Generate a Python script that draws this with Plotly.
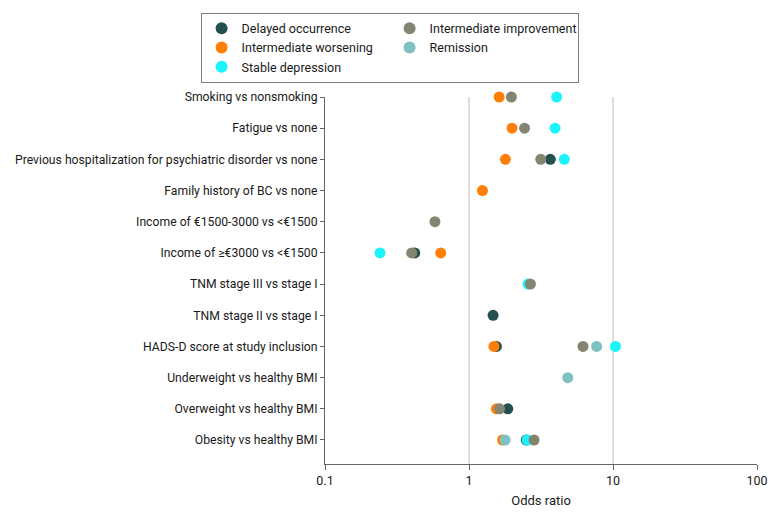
import plotly.graph_objects as go

categories = [
    "Smoking vs nonsmoking",
    "Fatigue vs none",
    "Previous hospitalization for psychiatric disorder vs none",
    "Family history of BC vs none",
    "Income of €1500-3000 vs <€1500",
    "Income of ≥€3000 vs <€1500",
    "TNM stage III vs stage I",
    "TNM stage II vs stage I",
    "HADS-D score at study inclusion",
    "Underweight vs healthy BMI",
    "Overweight vs healthy BMI",
    "Obesity vs healthy BMI",
]

# odds ratios per trajectory (None = not shown)
delayed_occurrence = [None, None, 3.67, None, None, 0.42, None, 1.47, 1.55, None, 1.86, 2.50]
intermediate_improvement = [1.97, 2.43, 3.15, None, 0.58, 0.40, 2.67, None, 6.19, None, 1.63, 2.83]
intermediate_worsening = [1.62, 1.99, 1.79, 1.24, None, 0.636, None, None, 1.49, None, 1.55, 1.71]
remission = [None, None, None, None, None, None, None, None, 7.7, 4.85, None, 1.78]
stable_depression = [4.06, 3.96, 4.59, None, None, 0.241, 2.57, None, 10.4, None, None, 2.53]

x_tick_vals = [0.1, 1, 10, 100]
x_tick_text = ["0.1", "1", "10", "100"]

series = [
    # name, values, color, legend rank (list order = draw order)
    ("Delayed occurrence", delayed_occurrence, "#24514f", 1),
    ("Stable depression", stable_depression, "#1cf3fb", 5),
    ("Intermediate worsening", intermediate_worsening, "#ff7f0a", 3),
    ("Intermediate improvement", intermediate_improvement, "#848570", 2),
    ("Remission", remission, "#7fc1c1", 4),
]

fig = go.Figure()
for name, vals, color, rank in series:
    xs = [v for v in vals if v is not None]
    ys = [c for c, v in zip(categories, vals) if v is not None]
    fig.add_trace(go.Scatter(
        x=xs, y=ys, mode="markers", name=name, legendrank=rank,
        marker=dict(size=11, color=color, line=dict(width=0)),
        cliponaxis=False,
    ))

font_family = "Roboto, 'Open Sans', sans-serif"
fig.update_layout(
    width=780, height=519,
    margin=dict(l=325, r=23, t=97, b=55),
    paper_bgcolor="white", plot_bgcolor="white",
    font=dict(family=font_family, size=12.2, color="#1a1a1a"),
    legend=dict(
        orientation="h", x=0.587, xanchor="right", y=1.23, yanchor="top",
        bordercolor="#808080", borderwidth=1,
        entrywidth=143, entrywidthmode="pixels",
        font=dict(size=12.5), itemsizing="constant",
        tracegroupgap=0,
    ),
    showlegend=True,
)
fig.update_xaxes(
    type="log", range=[-1, 2],
    tickvals=x_tick_vals, ticktext=x_tick_text,
    showgrid=True, gridcolor="#dcdcdc", gridwidth=1.5,
    showline=True, linecolor="#666666", linewidth=1,
    ticks="outside", ticklen=5, tickcolor="#666666",
    tickfont=dict(size=12.5),
    title=dict(text="Odds ratio", standoff=8, font=dict(size=13)),
    zeroline=False,
)
fig.update_yaxes(
    type="category", categoryorder="array", categoryarray=categories,
    range=[11.77, 0],
    showgrid=False, showline=True, linecolor="#666666", linewidth=1,
    ticks="outside", ticklen=4, tickcolor="#666666",
    zeroline=False,
)

fig.write_html("out.html", config={"displayModeBar": False},
               post_script="document.body.style.margin='0';")
